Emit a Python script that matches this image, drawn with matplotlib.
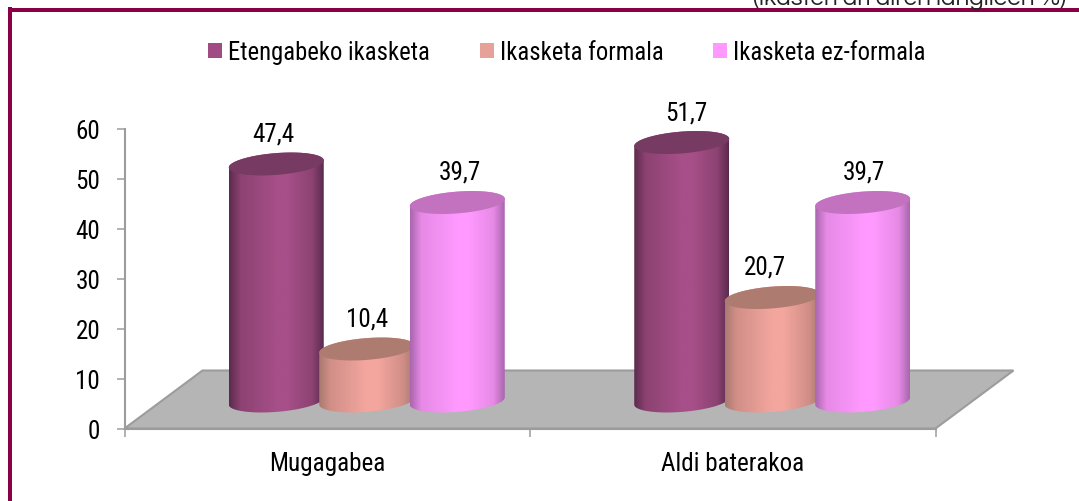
import numpy as np
import matplotlib
matplotlib.use('Agg')
import matplotlib.pyplot as plt
from matplotlib.patches import Polygon, Patch, Rectangle
from matplotlib.colors import LinearSegmentedColormap

categories = ['Mugagabea', 'Aldi baterakoa']
series_names = ['Etengabeko ikasketa', 'Ikasketa formala', 'Ikasketa ez-formala']
etengabeko = [47.4, 51.7]
formala = [10.4, 20.7]
ez_formala = [39.7, 39.7]
value_labels = [['47,4', '51,7'], ['10,4', '20,7'], ['39,7', '39,7']]
y_ticks = [0, 10, 20, 30, 40, 50, 60]
subtitle = '(ikasten ari diren langileen %)'

W, H = 1079, 502
plt.rcParams['font.family'] = ['Roboto Condensed', 'Archivo Narrow', 'Liberation Sans', 'DejaVu Sans']
FS = 18.1
fig = plt.figure(figsize=(W / 100, H / 100), dpi=100, facecolor='white')
ax = fig.add_axes([124.5 / W, (H - 429.5) / H, 811 / W, 300 / H])
ax.set_facecolor('none')

PX = 1 / 405.5   # x units per pixel
PY = 1 / 5.0     # y units per pixel
DX, DY = 78 * PX, 58 * PY

# floor
ax.add_patch(Polygon([(0, 0), (2, 0), (2 + DX, DY), (DX, DY)], closed=True,
                     facecolor='#b5b5b5', edgecolor='#9c9c9c', lw=1.5,
                     clip_on=False, zorder=1))

styles = [
    dict(edge='#5a2a4e', mid='#a64f88', low='#8c4272', cap='#773a62'),
    dict(edge='#a9796f', mid='#f3a69e', low='#d18f88', cap='#ad7b70'),
    dict(edge='#a965ad', mid='#ff99ff', low='#e68ae6', cap='#c272bf'),
]
swatches = ['#a04b84', '#e6a198', '#ff99ff']
label_nudge = [[-3, 5], [0, -7], [2.5, 1]]

BAR_W = 95 * PX
STEP = 90.5 * PX
OFFSET = 39.5 * PX
BASE = 5.5
SHEAR = 3.6 * PY
MINOR = 10.9 * PY

t1 = np.linspace(np.pi, 2 * np.pi, 90)
t2 = np.linspace(0, np.pi, 90)
t3 = np.linspace(0, 2 * np.pi, 180)

def ell(cx, cy, t):
    return np.column_stack([cx + BAR_W / 2 * np.cos(t),
                            cy + SHEAR * np.cos(t) + MINOR * np.sin(t)])

z = 2
for s, values in enumerate([etengabeko, formala, ez_formala]):
    st = styles[s]
    cmap = LinearSegmentedColormap.from_list('c%d' % s, [
        (0, st['edge']), (0.12, st['low']), (0.5, st['mid']),
        (0.62, st['mid']), (0.88, st['low']), (1, st['edge'])])
    for g, v in enumerate(values):
        cx = g + 0.5 + OFFSET + (s - 1) * STEP
        top = BASE + v
        body = np.vstack([ell(cx, BASE, t1), ell(cx, top, t2)])
        clip = Polygon(body, closed=True, transform=ax.transData)
        img = ax.imshow(np.linspace(0, 1, 256)[None, :], cmap=cmap, aspect='auto',
                        interpolation='bilinear',
                        extent=(cx - BAR_W / 2, cx + BAR_W / 2, BASE - 3, top + 3),
                        zorder=z)
        img.set_clip_path(clip)
        ax.add_patch(Polygon(ell(cx, top, t3), closed=True, facecolor=st['cap'],
                             edgecolor='none', zorder=z + 0.5))
        ax.text(cx + label_nudge[s][g] * PX, top + 30.5 * PY, value_labels[s][g],
                ha='center', va='center', fontsize=FS, color='black', zorder=10)
        z += 1

ax.set_xlim(0, 2)
ax.set_ylim(0, 60)
for side in ['top', 'right']:
    ax.spines[side].set_visible(False)
for side in ['left', 'bottom']:
    ax.spines[side].set_color('#9c9c9c')
    ax.spines[side].set_linewidth(1.5)
    ax.spines[side].set_zorder(1.5)
ax.set_yticks(y_ticks)
ax.set_yticklabels([str(v) for v in y_ticks], fontsize=FS)
ax.tick_params(axis='y', length=5.5, width=1.1, color='#9c9c9c', pad=12)
ax.set_xticks([0, 1, 2])
ax.set_xticklabels([])
ax.tick_params(axis='x', which='major', length=5.5, width=1.1, color='#9c9c9c')
ax.set_xticks([0.5, 1.5], minor=True)
ax.set_xticklabels(categories, minor=True, fontsize=FS)
ax.tick_params(axis='x', which='minor', length=0, pad=16.5)

handles = [Patch(facecolor=c, edgecolor='none', label=n) for c, n in zip(swatches, series_names)]
fig.legend(handles=handles, loc='center', bbox_to_anchor=(567 / W, (H - 53) / H),
           ncol=3, frameon=False, fontsize=17.7, handlelength=0.57, handleheight=0.57,
           handletextpad=0.24, columnspacing=2.03, borderpad=0, borderaxespad=0)

fig.text(1066 / W, (H - 5) / H, subtitle, ha='right', va='baseline', fontsize=17.5,
         family=['Questrial', 'DejaVu Sans'], color='#222222')

frame = '#8a0045'
fig.add_artist(Rectangle((8 / W, 0), 4 / W, (H - 8) / H, transform=fig.transFigure,
                         facecolor=frame, edgecolor='none'))
fig.add_artist(Rectangle((8 / W, (H - 13) / H), (W - 8) / W, 4 / H, transform=fig.transFigure,
                         facecolor=frame, edgecolor='none'))

fig.savefig('out.png', dpi=100)
